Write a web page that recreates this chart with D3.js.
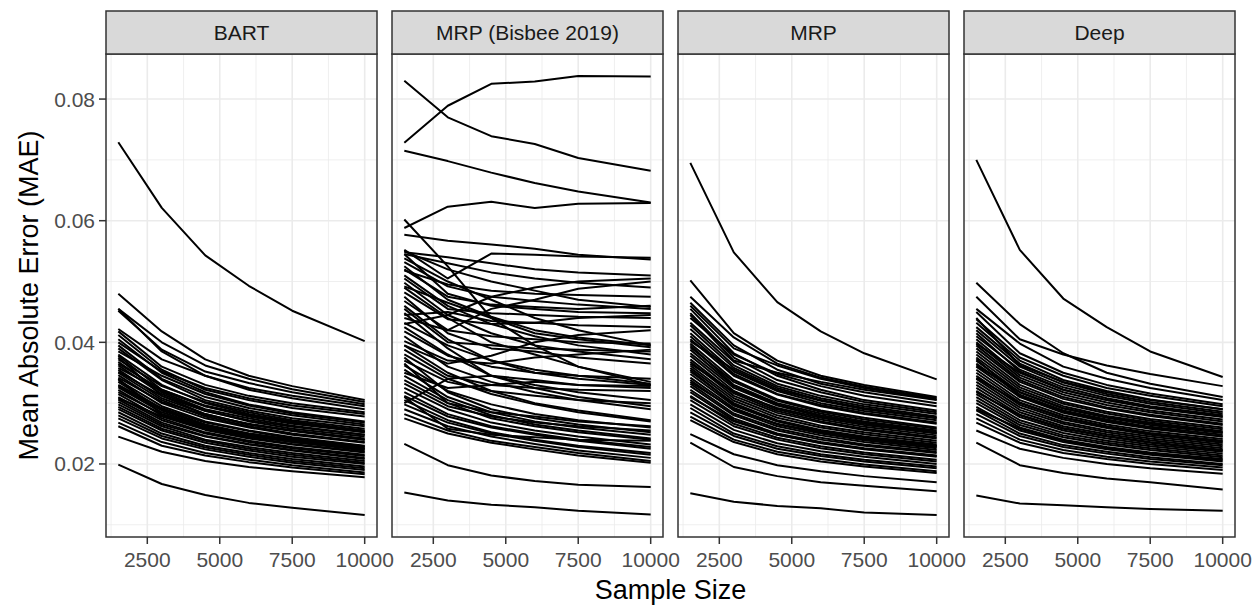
<!DOCTYPE html>
<html>
<head>
<meta charset="utf-8">
<script src="https://cdn.jsdelivr.net/npm/d3@7"></script>
<style>
  html, body { margin: 0; padding: 0; background: #ffffff; }
  svg { display: block; font-family: "Liberation Sans", Arial, sans-serif; }
</style>
</head>
<body>
<svg id="chart" width="1254" height="606"></svg>
<script>
// sample sizes on the x axis
const sampleSizes = [1500, 3000, 4500, 6000, 7500, 10000];
const methods = ['BART', 'MRP (Bisbee 2019)', 'MRP', 'Deep'];
const xTicks = [2500, 5000, 7500, 10000];
const xMinor = [1250, 3750, 6250, 8750];
const yTicks = [0.02, 0.04, 0.06, 0.08];
const yMinor = [0.01, 0.03, 0.05, 0.07];

// one row per state, MAE at each sample size
const bartSeries = [
    [0.0729, 0.0621, 0.0543, 0.0493, 0.0452, 0.0402],
    [0.0480, 0.0418, 0.0372, 0.0345, 0.0328, 0.0305],
    [0.0455, 0.0400, 0.0362, 0.0340, 0.0323, 0.0302],
    [0.0452, 0.0388, 0.0352, 0.0333, 0.0318, 0.0298],
    [0.0455, 0.0385, 0.0345, 0.0322, 0.0308, 0.0290],
    [0.0422, 0.0372, 0.0345, 0.0325, 0.0312, 0.0295],
    [0.0418, 0.0360, 0.0330, 0.0312, 0.0300, 0.0285],
    [0.0412, 0.0355, 0.0322, 0.0305, 0.0292, 0.0278],
    [0.0405, 0.0350, 0.0318, 0.0298, 0.0285, 0.0270],
    [0.0400, 0.0352, 0.0325, 0.0308, 0.0296, 0.0282],
    [0.0395, 0.0340, 0.0310, 0.0292, 0.0280, 0.0265],
    [0.0390, 0.0338, 0.0305, 0.0288, 0.0275, 0.0262],
    [0.0385, 0.0345, 0.0315, 0.0296, 0.0283, 0.0268],
    [0.0380, 0.0330, 0.0300, 0.0282, 0.0270, 0.0255],
    [0.0378, 0.0322, 0.0295, 0.0280, 0.0268, 0.0252],
    [0.0375, 0.0312, 0.0282, 0.0265, 0.0255, 0.0240],
    [0.0372, 0.0328, 0.0302, 0.0285, 0.0272, 0.0258],
    [0.0368, 0.0318, 0.0290, 0.0275, 0.0263, 0.0248],
    [0.0365, 0.0322, 0.0296, 0.0280, 0.0268, 0.0254],
    [0.0362, 0.0315, 0.0288, 0.0270, 0.0258, 0.0245],
    [0.0358, 0.0320, 0.0295, 0.0278, 0.0266, 0.0252],
    [0.0355, 0.0308, 0.0282, 0.0265, 0.0254, 0.0240],
    [0.0352, 0.0312, 0.0287, 0.0272, 0.0261, 0.0248],
    [0.0350, 0.0305, 0.0278, 0.0262, 0.0250, 0.0236],
    [0.0346, 0.0300, 0.0275, 0.0260, 0.0248, 0.0235],
    [0.0342, 0.0302, 0.0280, 0.0266, 0.0255, 0.0242],
    [0.0340, 0.0282, 0.0262, 0.0250, 0.0240, 0.0228],
    [0.0338, 0.0295, 0.0270, 0.0255, 0.0244, 0.0230],
    [0.0335, 0.0290, 0.0265, 0.0250, 0.0240, 0.0226],
    [0.0330, 0.0292, 0.0268, 0.0254, 0.0242, 0.0229],
    [0.0328, 0.0288, 0.0264, 0.0249, 0.0238, 0.0225],
    [0.0326, 0.0285, 0.0262, 0.0247, 0.0236, 0.0222],
    [0.0322, 0.0280, 0.0258, 0.0244, 0.0233, 0.0220],
    [0.0318, 0.0282, 0.0260, 0.0246, 0.0236, 0.0224],
    [0.0315, 0.0275, 0.0252, 0.0238, 0.0228, 0.0215],
    [0.0310, 0.0272, 0.0250, 0.0236, 0.0226, 0.0213],
    [0.0308, 0.0278, 0.0256, 0.0242, 0.0232, 0.0219],
    [0.0306, 0.0268, 0.0246, 0.0233, 0.0223, 0.0210],
    [0.0302, 0.0265, 0.0245, 0.0232, 0.0222, 0.0208],
    [0.0298, 0.0262, 0.0240, 0.0228, 0.0218, 0.0205],
    [0.0294, 0.0258, 0.0238, 0.0225, 0.0215, 0.0202],
    [0.0290, 0.0255, 0.0235, 0.0222, 0.0212, 0.0200],
    [0.0285, 0.0250, 0.0230, 0.0218, 0.0208, 0.0196],
    [0.0280, 0.0246, 0.0227, 0.0215, 0.0205, 0.0193],
    [0.0275, 0.0242, 0.0224, 0.0212, 0.0202, 0.0190],
    [0.0268, 0.0236, 0.0218, 0.0207, 0.0198, 0.0186],
    [0.0262, 0.0230, 0.0214, 0.0203, 0.0194, 0.0183],
    [0.0245, 0.0220, 0.0205, 0.0195, 0.0188, 0.0178],
    [0.0199, 0.0167, 0.0149, 0.0136, 0.0128, 0.0116]
];

const bisbeeSeries = [
    [0.0830, 0.0770, 0.0739, 0.0726, 0.0703, 0.0682],
    [0.0728, 0.0789, 0.0825, 0.0829, 0.0838, 0.0837],
    [0.0715, 0.0698, 0.0679, 0.0662, 0.0648, 0.0630],
    [0.0588, 0.0623, 0.0631, 0.0621, 0.0628, 0.0629],
    [0.0602, 0.0525, 0.0440, 0.0395, 0.0360, 0.0330],
    [0.0577, 0.0567, 0.0561, 0.0554, 0.0544, 0.0536],
    [0.0552, 0.0505, 0.0546, 0.0544, 0.0541, 0.0539],
    [0.0550, 0.0520, 0.0500, 0.0485, 0.0470, 0.0458],
    [0.0548, 0.0540, 0.0530, 0.0520, 0.0515, 0.0510],
    [0.0545, 0.0480, 0.0460, 0.0455, 0.0450, 0.0448],
    [0.0545, 0.0530, 0.0515, 0.0505, 0.0498, 0.0490],
    [0.0538, 0.0500, 0.0470, 0.0440, 0.0420, 0.0395],
    [0.0532, 0.0492, 0.0475, 0.0468, 0.0462, 0.0455],
    [0.0525, 0.0470, 0.0442, 0.0420, 0.0408, 0.0395],
    [0.0520, 0.0475, 0.0462, 0.0458, 0.0455, 0.0460],
    [0.0518, 0.0495, 0.0485, 0.0480, 0.0478, 0.0475],
    [0.0510, 0.0460, 0.0430, 0.0410, 0.0395, 0.0380],
    [0.0505, 0.0455, 0.0448, 0.0445, 0.0442, 0.0440],
    [0.0498, 0.0445, 0.0415, 0.0395, 0.0385, 0.0372],
    [0.0492, 0.0465, 0.0440, 0.0415, 0.0405, 0.0392],
    [0.0490, 0.0440, 0.0400, 0.0380, 0.0360, 0.0335],
    [0.0482, 0.0438, 0.0430, 0.0432, 0.0428, 0.0425],
    [0.0475, 0.0415, 0.0390, 0.0385, 0.0375, 0.0365],
    [0.0468, 0.0420, 0.0455, 0.0470, 0.0488, 0.0500],
    [0.0460, 0.0405, 0.0370, 0.0350, 0.0340, 0.0330],
    [0.0455, 0.0400, 0.0395, 0.0390, 0.0388, 0.0385],
    [0.0448, 0.0390, 0.0345, 0.0330, 0.0318, 0.0305],
    [0.0445, 0.0450, 0.0435, 0.0432, 0.0440, 0.0445],
    [0.0440, 0.0420, 0.0410, 0.0405, 0.0400, 0.0398],
    [0.0432, 0.0395, 0.0370, 0.0355, 0.0345, 0.0332],
    [0.0430, 0.0445, 0.0475, 0.0490, 0.0500, 0.0505],
    [0.0425, 0.0380, 0.0345, 0.0325, 0.0310, 0.0295],
    [0.0418, 0.0378, 0.0360, 0.0350, 0.0345, 0.0340],
    [0.0410, 0.0360, 0.0335, 0.0318, 0.0305, 0.0290],
    [0.0402, 0.0370, 0.0365, 0.0375, 0.0380, 0.0388],
    [0.0395, 0.0350, 0.0320, 0.0300, 0.0288, 0.0272],
    [0.0395, 0.0365, 0.0378, 0.0400, 0.0412, 0.0420],
    [0.0388, 0.0345, 0.0330, 0.0325, 0.0322, 0.0320],
    [0.0380, 0.0340, 0.0315, 0.0298, 0.0285, 0.0270],
    [0.0375, 0.0318, 0.0290, 0.0275, 0.0265, 0.0252],
    [0.0370, 0.0335, 0.0320, 0.0312, 0.0305, 0.0300],
    [0.0365, 0.0300, 0.0285, 0.0278, 0.0270, 0.0262],
    [0.0362, 0.0320, 0.0298, 0.0282, 0.0272, 0.0260],
    [0.0355, 0.0310, 0.0285, 0.0270, 0.0260, 0.0248],
    [0.0350, 0.0325, 0.0330, 0.0335, 0.0330, 0.0328],
    [0.0345, 0.0305, 0.0280, 0.0265, 0.0255, 0.0242],
    [0.0338, 0.0300, 0.0275, 0.0262, 0.0252, 0.0240],
    [0.0332, 0.0295, 0.0278, 0.0268, 0.0262, 0.0255],
    [0.0325, 0.0290, 0.0268, 0.0255, 0.0245, 0.0232],
    [0.0318, 0.0282, 0.0262, 0.0250, 0.0240, 0.0228],
    [0.0312, 0.0278, 0.0260, 0.0248, 0.0238, 0.0225],
    [0.0310, 0.0258, 0.0248, 0.0244, 0.0240, 0.0238],
    [0.0305, 0.0272, 0.0252, 0.0240, 0.0230, 0.0218],
    [0.0300, 0.0340, 0.0345, 0.0338, 0.0330, 0.0325],
    [0.0298, 0.0268, 0.0250, 0.0238, 0.0228, 0.0215],
    [0.0290, 0.0262, 0.0245, 0.0233, 0.0222, 0.0210],
    [0.0282, 0.0255, 0.0238, 0.0228, 0.0218, 0.0205],
    [0.0275, 0.0250, 0.0235, 0.0224, 0.0214, 0.0202],
    [0.0233, 0.0198, 0.0181, 0.0172, 0.0166, 0.0162],
    [0.0153, 0.0140, 0.0133, 0.0129, 0.0123, 0.0117]
];

const mrpSeries = [
    [0.0695, 0.0548, 0.0466, 0.0418, 0.0382, 0.0339],
    [0.0502, 0.0415, 0.0370, 0.0345, 0.0330, 0.0310],
    [0.0475, 0.0408, 0.0365, 0.0342, 0.0327, 0.0308],
    [0.0465, 0.0395, 0.0355, 0.0332, 0.0318, 0.0300],
    [0.0460, 0.0390, 0.0362, 0.0340, 0.0325, 0.0306],
    [0.0455, 0.0382, 0.0345, 0.0322, 0.0305, 0.0288],
    [0.0448, 0.0375, 0.0338, 0.0318, 0.0302, 0.0285],
    [0.0445, 0.0370, 0.0350, 0.0335, 0.0322, 0.0305],
    [0.0440, 0.0380, 0.0348, 0.0328, 0.0312, 0.0295],
    [0.0432, 0.0368, 0.0332, 0.0312, 0.0298, 0.0282],
    [0.0428, 0.0362, 0.0328, 0.0308, 0.0295, 0.0278],
    [0.0422, 0.0358, 0.0325, 0.0305, 0.0292, 0.0276],
    [0.0415, 0.0352, 0.0320, 0.0300, 0.0287, 0.0272],
    [0.0410, 0.0348, 0.0315, 0.0297, 0.0284, 0.0268],
    [0.0405, 0.0345, 0.0314, 0.0295, 0.0282, 0.0266],
    [0.0402, 0.0355, 0.0322, 0.0304, 0.0290, 0.0275],
    [0.0398, 0.0338, 0.0306, 0.0288, 0.0276, 0.0260],
    [0.0395, 0.0330, 0.0300, 0.0283, 0.0270, 0.0255],
    [0.0392, 0.0335, 0.0304, 0.0286, 0.0273, 0.0258],
    [0.0388, 0.0328, 0.0298, 0.0280, 0.0268, 0.0253],
    [0.0382, 0.0325, 0.0296, 0.0278, 0.0266, 0.0251],
    [0.0378, 0.0320, 0.0290, 0.0273, 0.0261, 0.0247],
    [0.0372, 0.0316, 0.0287, 0.0270, 0.0258, 0.0244],
    [0.0368, 0.0312, 0.0284, 0.0268, 0.0256, 0.0242],
    [0.0365, 0.0318, 0.0292, 0.0276, 0.0264, 0.0250],
    [0.0362, 0.0308, 0.0280, 0.0263, 0.0252, 0.0238],
    [0.0358, 0.0304, 0.0276, 0.0260, 0.0249, 0.0235],
    [0.0355, 0.0298, 0.0270, 0.0254, 0.0243, 0.0230],
    [0.0352, 0.0300, 0.0272, 0.0256, 0.0245, 0.0232],
    [0.0348, 0.0296, 0.0270, 0.0254, 0.0243, 0.0230],
    [0.0342, 0.0292, 0.0265, 0.0250, 0.0239, 0.0226],
    [0.0338, 0.0288, 0.0262, 0.0247, 0.0236, 0.0223],
    [0.0335, 0.0290, 0.0266, 0.0252, 0.0241, 0.0228],
    [0.0332, 0.0283, 0.0258, 0.0243, 0.0232, 0.0220],
    [0.0328, 0.0280, 0.0255, 0.0240, 0.0230, 0.0218],
    [0.0322, 0.0275, 0.0250, 0.0236, 0.0226, 0.0214],
    [0.0318, 0.0272, 0.0248, 0.0234, 0.0224, 0.0212],
    [0.0312, 0.0266, 0.0243, 0.0229, 0.0219, 0.0207],
    [0.0310, 0.0270, 0.0248, 0.0235, 0.0225, 0.0213],
    [0.0305, 0.0262, 0.0240, 0.0226, 0.0216, 0.0204],
    [0.0298, 0.0256, 0.0234, 0.0221, 0.0212, 0.0200],
    [0.0292, 0.0250, 0.0229, 0.0216, 0.0207, 0.0196],
    [0.0285, 0.0246, 0.0225, 0.0213, 0.0204, 0.0193],
    [0.0278, 0.0240, 0.0220, 0.0208, 0.0199, 0.0188],
    [0.0272, 0.0236, 0.0216, 0.0204, 0.0196, 0.0185],
    [0.0249, 0.0216, 0.0198, 0.0188, 0.0180, 0.0170],
    [0.0235, 0.0195, 0.0180, 0.0170, 0.0164, 0.0155],
    [0.0152, 0.0138, 0.0131, 0.0127, 0.0120, 0.0116]
];

const deepSeries = [
    [0.0700, 0.0552, 0.0472, 0.0425, 0.0385, 0.0343],
    [0.0498, 0.0430, 0.0382, 0.0350, 0.0332, 0.0310],
    [0.0475, 0.0405, 0.0380, 0.0362, 0.0348, 0.0328],
    [0.0455, 0.0398, 0.0360, 0.0340, 0.0325, 0.0305],
    [0.0450, 0.0382, 0.0350, 0.0330, 0.0316, 0.0298],
    [0.0440, 0.0362, 0.0335, 0.0318, 0.0305, 0.0290],
    [0.0438, 0.0375, 0.0345, 0.0325, 0.0312, 0.0295],
    [0.0432, 0.0370, 0.0338, 0.0320, 0.0306, 0.0290],
    [0.0425, 0.0365, 0.0334, 0.0315, 0.0302, 0.0286],
    [0.0420, 0.0360, 0.0330, 0.0312, 0.0299, 0.0283],
    [0.0415, 0.0352, 0.0322, 0.0305, 0.0292, 0.0277],
    [0.0410, 0.0355, 0.0326, 0.0308, 0.0295, 0.0280],
    [0.0405, 0.0346, 0.0318, 0.0301, 0.0288, 0.0273],
    [0.0400, 0.0342, 0.0314, 0.0297, 0.0285, 0.0270],
    [0.0398, 0.0350, 0.0322, 0.0305, 0.0293, 0.0278],
    [0.0395, 0.0338, 0.0310, 0.0293, 0.0281, 0.0266],
    [0.0390, 0.0335, 0.0307, 0.0291, 0.0279, 0.0264],
    [0.0385, 0.0330, 0.0302, 0.0286, 0.0274, 0.0260],
    [0.0380, 0.0326, 0.0299, 0.0283, 0.0271, 0.0257],
    [0.0375, 0.0322, 0.0295, 0.0279, 0.0268, 0.0254],
    [0.0372, 0.0312, 0.0286, 0.0271, 0.0259, 0.0245],
    [0.0370, 0.0318, 0.0291, 0.0276, 0.0264, 0.0251],
    [0.0365, 0.0314, 0.0288, 0.0273, 0.0261, 0.0248],
    [0.0362, 0.0318, 0.0292, 0.0277, 0.0266, 0.0252],
    [0.0360, 0.0310, 0.0284, 0.0269, 0.0258, 0.0245],
    [0.0355, 0.0305, 0.0280, 0.0265, 0.0254, 0.0241],
    [0.0350, 0.0301, 0.0277, 0.0262, 0.0251, 0.0238],
    [0.0345, 0.0297, 0.0273, 0.0259, 0.0248, 0.0235],
    [0.0342, 0.0300, 0.0276, 0.0261, 0.0250, 0.0237],
    [0.0340, 0.0293, 0.0269, 0.0255, 0.0245, 0.0232],
    [0.0335, 0.0289, 0.0266, 0.0252, 0.0242, 0.0229],
    [0.0330, 0.0285, 0.0262, 0.0249, 0.0239, 0.0226],
    [0.0325, 0.0281, 0.0259, 0.0246, 0.0236, 0.0223],
    [0.0320, 0.0277, 0.0255, 0.0242, 0.0232, 0.0220],
    [0.0318, 0.0280, 0.0258, 0.0245, 0.0235, 0.0222],
    [0.0315, 0.0272, 0.0251, 0.0238, 0.0229, 0.0217],
    [0.0310, 0.0268, 0.0247, 0.0235, 0.0226, 0.0214],
    [0.0305, 0.0264, 0.0244, 0.0232, 0.0223, 0.0211],
    [0.0300, 0.0260, 0.0240, 0.0228, 0.0219, 0.0208],
    [0.0294, 0.0255, 0.0236, 0.0224, 0.0215, 0.0204],
    [0.0290, 0.0258, 0.0238, 0.0226, 0.0217, 0.0206],
    [0.0288, 0.0250, 0.0231, 0.0220, 0.0211, 0.0200],
    [0.0282, 0.0246, 0.0228, 0.0217, 0.0208, 0.0198],
    [0.0275, 0.0240, 0.0223, 0.0212, 0.0204, 0.0194],
    [0.0268, 0.0235, 0.0218, 0.0208, 0.0200, 0.0190],
    [0.0255, 0.0225, 0.0210, 0.0200, 0.0193, 0.0184],
    [0.0235, 0.0198, 0.0185, 0.0176, 0.0170, 0.0158],
    [0.0148, 0.0135, 0.0132, 0.0129, 0.0126, 0.0123]
];

const seriesByMethod = [bartSeries, bisbeeSeries, mrpSeries, deepSeries];

const svg = d3.select('#chart');

const panelLeft = 106;
const panelWidth = 271;
const panelGap = 15;
const stripTop = 11;
const panelTop = 54;
const panelBottom = 537;

const fontTick = 21;
const fontTitle = 27;

// ggplot-style 5% expansion on both axes
const allValues = seriesByMethod.flat(2);
const yExt = d3.extent(allValues);
const yPad = (yExt[1] - yExt[0]) * 0.05;
const xExt = d3.extent(sampleSizes);
const xPad = (xExt[1] - xExt[0]) * 0.05;

const y = d3.scaleLinear()
    .domain([yExt[0] - yPad, yExt[1] + yPad])
    .range([panelBottom, panelTop]);

const line = d3.line();

methods.forEach((method, i) => {
    const x0 = panelLeft + i * (panelWidth + panelGap);
    const x = d3.scaleLinear()
        .domain([xExt[0] - xPad, xExt[1] + xPad])
        .range([x0, x0 + panelWidth]);

    const g = svg.append('g').attr('class', 'panel');

    g.append('rect')
        .attr('x', x0)
        .attr('y', panelTop)
        .attr('width', panelWidth)
        .attr('height', panelBottom - panelTop)
        .attr('fill', '#ffffff');

    // minor grid
    g.selectAll('.vminor').data(xMinor).enter().append('line')
        .attr('x1', d => x(d)).attr('x2', d => x(d))
        .attr('y1', panelTop).attr('y2', panelBottom)
        .attr('stroke', '#EBEBEB').attr('stroke-width', 0.8);
    g.selectAll('.hminor').data(yMinor).enter().append('line')
        .attr('x1', x0).attr('x2', x0 + panelWidth)
        .attr('y1', d => y(d)).attr('y2', d => y(d))
        .attr('stroke', '#EBEBEB').attr('stroke-width', 0.8);

    // major grid
    g.selectAll('.vmajor').data(xTicks).enter().append('line')
        .attr('x1', d => x(d)).attr('x2', d => x(d))
        .attr('y1', panelTop).attr('y2', panelBottom)
        .attr('stroke', '#EBEBEB').attr('stroke-width', 1.6);
    g.selectAll('.hmajor').data(yTicks).enter().append('line')
        .attr('x1', x0).attr('x2', x0 + panelWidth)
        .attr('y1', d => y(d)).attr('y2', d => y(d))
        .attr('stroke', '#EBEBEB').attr('stroke-width', 1.6);

    line.x((d, j) => x(sampleSizes[j])).y(d => y(d));

    g.selectAll('.state-line')
        .data(seriesByMethod[i])
        .enter().append('path')
        .attr('class', 'state-line')
        .attr('d', line)
        .attr('fill', 'none')
        .attr('stroke', '#000000')
        .attr('stroke-width', 2)
        .attr('stroke-linejoin', 'round');

    g.append('rect')
        .attr('x', x0)
        .attr('y', panelTop)
        .attr('width', panelWidth)
        .attr('height', panelBottom - panelTop)
        .attr('fill', 'none')
        .attr('stroke', '#333333')
        .attr('stroke-width', 1.5);

    // facet strip
    g.append('rect')
        .attr('x', x0)
        .attr('y', stripTop)
        .attr('width', panelWidth)
        .attr('height', panelTop - stripTop)
        .attr('fill', '#D9D9D9')
        .attr('stroke', '#333333')
        .attr('stroke-width', 1.5);

    g.append('text')
        .attr('x', x0 + panelWidth / 2)
        .attr('y', (stripTop + panelTop) / 2)
        .attr('text-anchor', 'middle')
        .attr('dominant-baseline', 'central')
        .attr('font-size', fontTick)
        .attr('fill', '#1A1A1A')
        .text(method);

    // x axis ticks
    g.selectAll('.xtick').data(xTicks).enter().append('line')
        .attr('x1', d => x(d)).attr('x2', d => x(d))
        .attr('y1', panelBottom).attr('y2', panelBottom + 7)
        .attr('stroke', '#333333').attr('stroke-width', 1.5);
    g.selectAll('.xlabel').data(xTicks).enter().append('text')
        .attr('x', d => x(d))
        .attr('y', panelBottom + 30)
        .attr('text-anchor', 'middle')
        .attr('font-size', fontTick)
        .attr('fill', '#4D4D4D')
        .text(d => d);

    if (i === 0) {
        g.selectAll('.ytick').data(yTicks).enter().append('line')
            .attr('x1', x0 - 7).attr('x2', x0)
            .attr('y1', d => y(d)).attr('y2', d => y(d))
            .attr('stroke', '#333333').attr('stroke-width', 1.5);
        g.selectAll('.ylabel').data(yTicks).enter().append('text')
            .attr('x', x0 - 11)
            .attr('y', d => y(d))
            .attr('text-anchor', 'end')
            .attr('dominant-baseline', 'central')
            .attr('font-size', fontTick)
            .attr('fill', '#4D4D4D')
            .text(d => d3.format('.2f')(d));
    }
});

// axis titles
const plotRight = panelLeft + 4 * panelWidth + 3 * panelGap;
svg.append('text')
    .attr('x', (panelLeft + plotRight) / 2)
    .attr('y', 599)
    .attr('text-anchor', 'middle')
    .attr('font-size', fontTitle)
    .attr('fill', '#000000')
    .text('Sample Size');

svg.append('text')
    .attr('transform', `translate(38, ${(panelTop + panelBottom) / 2}) rotate(-90)`)
    .attr('text-anchor', 'middle')
    .attr('font-size', fontTitle)
    .attr('fill', '#000000')
    .text('Mean Absolute Error (MAE)');
</script>
</body>
</html>
